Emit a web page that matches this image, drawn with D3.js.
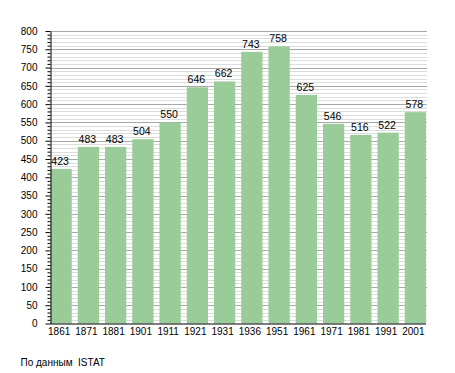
<!DOCTYPE html>
<html>
<head>
<meta charset="utf-8">
<script src="https://cdn.jsdelivr.net/npm/d3@7"></script>
<style>
  body { margin: 0; background: #fff; }
  svg text { font-family: "Liberation Sans", Arial, sans-serif; fill: #000; }
</style>
</head>
<body>
<svg id="chart" width="455" height="373"></svg>
<script>
const years = ["1861", "1871", "1881", "1901", "1911", "1921", "1931", "1936", "1951", "1961", "1971", "1981", "1991", "2001"];
const population = [423, 483, 483, 504, 550, 646, 662, 743, 758, 625, 546, 516, 522, 578];
const yTicks = [0, 50, 100, 150, 200, 250, 300, 350, 400, 450, 500, 550, 600, 650, 700, 750, 800];
const sourceNote = "По данным  ISTAT";

const svg = d3.select("#chart");
const plotLeft = 50.5, plotRight = 426, plotTop = 31, plotBottom = 323.5;

const x = d3.scaleBand()
    .domain(years)
    .range([plotLeft, plotRight])
    .paddingInner(0.22)
    .paddingOuter(0);

const y = d3.scaleLinear()
    .domain([0, 800])
    .range([plotBottom, plotTop]);

// minor gridlines every 10
const minor = d3.range(10, 801, 10).filter(v => v % 50 != 0);
svg.append("g")
    .selectAll("line")
    .data(minor)
    .join("line")
    .attr("x1", plotLeft).attr("x2", plotRight + 1)
    .attr("y1", d => Math.round(y(d)) + 0.5).attr("y2", d => Math.round(y(d)) + 0.5)
    .attr("stroke", "#dcdcdc");

// major gridlines every 50
svg.append("g")
    .selectAll("line")
    .data(yTicks.filter(d => d > 0))
    .join("line")
    .attr("x1", plotLeft).attr("x2", plotRight + 1)
    .attr("y1", d => Math.round(y(d)) + 0.5).attr("y2", d => Math.round(y(d)) + 0.5)
    .attr("stroke", "#a8a8a8");

// bars
svg.append("g")
    .selectAll("rect")
    .data(years)
    .join("rect")
    .attr("x", (d) => x(d))
    .attr("y", (d, i) => y(population[i]))
    .attr("width", x.bandwidth())
    .attr("height", (d, i) => y(0) - y(population[i]))
    .attr("fill", "#99cc99");

// value labels
svg.append("g")
    .selectAll("text")
    .data(years)
    .join("text")
    .attr("x", d => x(d) + x.bandwidth() / 2 - 1)
    .attr("y", (d, i) => y(population[i]) - 4)
    .attr("text-anchor", "middle")
    .style("font-size", "10.5px")
    .text((d, i) => population[i]);

// y axis: minor ticks
svg.append("g")
    .attr("transform", `translate(${plotLeft},0)`)
    .call(d3.axisLeft(y).tickValues(minor).tickSize(3).tickFormat(""))
    .call(g => g.select(".domain").remove())
    .selectAll("line").attr("stroke", "#000");

// y axis: major ticks and labels
svg.append("g")
    .attr("transform", `translate(${plotLeft},0)`)
    .call(d3.axisLeft(y).tickValues(yTicks).tickSize(5).tickSizeOuter(0).tickPadding(8))
    .call(g => g.selectAll("text").style("font-size", "10px").attr("font-family", null))
    .call(g => g.selectAll("line, path").attr("stroke", "#000"));

// x axis
svg.append("g")
    .attr("transform", `translate(0,${plotBottom})`)
    .call(d3.axisBottom(x).tickSize(0).tickSizeOuter(0).tickPadding(4))
    .call(g => g.select(".domain").attr("d", `M${plotLeft},0.5H${plotRight}`).attr("stroke", "#000"))
    .call(g => g.selectAll("text").style("font-size", "10px").attr("font-family", null).attr("dx", -2));

// source note
svg.append("text")
    .attr("x", 20.5)
    .attr("y", 366)
    .style("font-size", "10px")
    .style("white-space", "pre")
    .text(sourceNote);
</script>
</body>
</html>
